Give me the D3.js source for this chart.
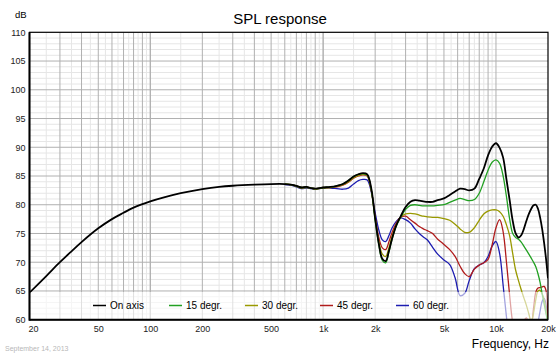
<!DOCTYPE html>
<html><head><meta charset="utf-8">
<script src="https://cdn.jsdelivr.net/npm/d3@7"></script>
<style>body{margin:0;background:#fff}svg{display:block;font-family:"Liberation Sans",Arial,sans-serif}</style>
</head><body><svg id="c" width="560" height="356"></svg>
<script>
const freqLow = [20,25,30,35,40,50,60,70,80,100,120,150,200,250,300,400,500];
const onAxisLow = [64.7,67.6,70.0,71.9,73.5,75.9,77.5,78.6,79.5,80.6,81.3,82.0,82.7,83.1,83.3,83.5,83.6];
const freqHigh = [600,650,700,750,800,850,900,950,1000,1100,1200,1300,1400,1500,1600,1700,1800,1900,2000,2100,2200,2300,2400,2500,2650,2800,3000,3200,3400,3600,3800,4000,4300,4600,5000,5400,5800,6200,6600,7000,7500,8000,8500,9000,9500,10000,10500,11000,11500,12000,12500,13000,13500,14000,14500,15000,15500,16000,16500,17000,17500,18000,18500,19000,19500,20000];
const onAxisHigh = [83.6,83.5,83.3,83.0,83.1,82.9,82.8,82.9,83.0,83.1,83.3,83.6,84.2,84.9,85.3,85.5,85.3,82.8,77.6,73.2,70.6,70.2,71.9,74.0,76.4,77.9,79.6,80.5,80.8,80.7,80.6,80.5,80.5,80.8,81.1,81.7,82.3,82.8,82.7,82.5,82.8,84.5,86.3,88.6,90.1,90.7,89.9,88.2,84.4,80.8,77.2,75.0,74.3,74.7,75.8,77.2,78.4,79.3,79.9,80.0,79.3,77.8,75.8,73.3,70.5,67.2];
const deg15 = [83.6,83.5,83.3,83.0,83.1,82.9,82.8,82.9,83.0,83.1,83.3,83.6,84.2,84.9,85.3,85.4,85.2,82.6,77.3,73.0,70.3,69.9,71.7,73.9,76.3,77.7,79.2,79.9,80.0,79.9,79.8,79.8,79.8,79.9,80.0,80.4,80.8,81.1,80.9,80.7,80.9,82.0,84.0,86.0,87.4,87.8,87.2,85.0,81.4,77.5,75.0,74.3,74.0,73.5,72.8,72.1,71.4,70.7,70.0,69.2,68.0,66.5,64.5,62.7,61.0,59.3];
const deg30 = [83.6,83.5,83.2,82.9,83.0,82.9,82.7,82.8,82.9,83.0,83.2,83.5,84.0,84.7,85.1,85.3,85.1,82.5,77.6,73.6,71.4,71.0,72.5,74.4,76.5,77.8,78.4,78.5,78.4,78.2,78.0,77.9,77.8,77.8,77.6,77.3,76.6,75.8,75.2,75.2,76.0,77.3,78.4,78.9,79.1,79.1,78.8,78.0,76.5,74.6,71.5,68.6,66.8,65.2,63.8,62.5,61.0,59.6,61.2,63.5,65.0,65.1,64.5,63.5,61.5,59.0];
const deg45 = [83.6,83.5,83.3,83.0,83.1,82.9,82.8,82.9,83.0,83.0,83.1,83.4,83.9,84.6,85.0,85.2,85.0,82.4,77.9,74.3,72.5,72.2,73.5,75.1,76.8,77.8,78.0,77.4,76.8,76.2,75.8,75.5,75.0,74.0,73.1,72.2,71.0,69.3,68.0,67.5,68.8,69.5,69.9,70.5,73.0,76.0,77.4,75.3,70.0,64.2,59.5,57.5,57.0,58.0,59.8,60.3,59.5,59.5,62.0,64.8,65.5,65.6,65.7,65.8,65.0,59.0];
const deg60 = [83.5,83.4,83.1,82.8,82.9,82.8,82.7,82.8,82.9,82.9,82.8,82.7,82.9,83.6,84.2,84.4,84.3,82.2,78.6,75.6,73.9,73.6,74.6,75.9,77.1,77.7,77.4,76.8,75.8,75.0,74.4,73.9,72.6,71.4,70.4,69.6,67.3,64.2,64.6,66.8,68.9,69.5,69.9,71.0,72.8,73.6,71.5,66.0,60.5,56.0,54.0,54.0,54.0,54.0,54.0,55.0,55.0,55.0,56.0,57.5,59.5,61.5,63.2,63.7,62.5,58.0];
const seriesNames = ["On axis","15 degr.","30 degr.","45 degr.","60 degr."];
const seriesColors = ["#000000","#22a022","#999900","#b01c1c","#1c1cb0"];
const xTickValues = [20,50,100,200,500,1000,2000,5000,10000,20000];
const xTickLabels = ["20","50","100","200","500","1k","2k","5k","10k","20k"];
const yTickValues = [60,65,70,75,80,85,90,95,100,105,110];

const svg = d3.select("#c");
const L = 29.5, R = 548, T = 32.3, B = 319.7;
const x = d3.scaleLog().domain([20,20000]).range([L,R]);
const y = d3.scaleLinear().domain([60,110]).range([B,T]);

svg.append("defs").append("clipPath").attr("id","clip")
  .append("rect").attr("x",L).attr("y",T).attr("width",R-L).attr("height",B-T);

const g = svg.append("g");
const minorX = [], majorX = [];
for (const d of [10,100,1000]) {
  for (let k = 1; k <= 10; k++) {
    const v = k*d; if (v > 20 && v < 20000) majorX.push(v);
    const m = (k+0.5)*d; if (k < 10 && m > 20 && m < 20000) minorX.push(m);
  }
}
const minorY = d3.range(61,110).filter(v => v % 5 !== 0);
const majorY = d3.range(65,110,5);
g.selectAll(".mnx").data(minorX).join("line").attr("x1",d=>x(d)).attr("x2",d=>x(d)).attr("y1",T).attr("y2",B).attr("stroke","#e6e6e6").attr("stroke-width",1);
g.selectAll(".mny").data(minorY).join("line").attr("y1",d=>y(d)).attr("y2",d=>y(d)).attr("x1",L).attr("x2",R).attr("stroke","#e6e6e6").attr("stroke-width",1);
g.selectAll(".mjx").data(majorX).join("line").attr("x1",d=>x(d)).attr("x2",d=>x(d)).attr("y1",T).attr("y2",B).attr("stroke","#b0b0b0").attr("stroke-width",1);
g.selectAll(".mjy").data(majorY).join("line").attr("y1",d=>y(d)).attr("y2",d=>y(d)).attr("x1",L).attr("x2",R).attr("stroke","#b0b0b0").attr("stroke-width",1);

const line = d3.line().x(d=>x(d[0])).y(d=>y(d[1])).curve(d3.curveCatmullRom.alpha(0.5));
const onAxis = freqLow.map((f,i)=>[f,onAxisLow[i]]).concat(freqHigh.map((f,i)=>[f,onAxisHigh[i]]));
const series = [onAxis, freqHigh.map((f,i)=>[f,deg15[i]]), freqHigh.map((f,i)=>[f,deg30[i]]), freqHigh.map((f,i)=>[f,deg45[i]]), freqHigh.map((f,i)=>[f,deg60[i]])];
const cg = svg.append("g").attr("clip-path","url(#clip)");
for (let i = series.length-1; i >= 0; i--) {
  cg.append("path").attr("d",line(series[i])).attr("fill","none").attr("stroke",seriesColors[i]).attr("stroke-width", i===0?1.8:1.3).attr("stroke-linejoin","round");
}

const lg = svg.append("g");
lg.append("rect").attr("x",L+1).attr("y",292).attr("width",R-L-2).attr("height",B-292).attr("fill","#fff").attr("opacity",0.6);
const legX = [93,169,245,320,396];
seriesNames.forEach((n,i)=>{
  lg.append("line").attr("x1",legX[i]).attr("x2",legX[i]+13).attr("y1",305.5).attr("y2",305.5).attr("stroke",seriesColors[i]).attr("stroke-width",1.5);
  lg.append("text").attr("x",legX[i]+17).attr("y",309).attr("font-size",10).attr("fill","#000").text(n);
});

svg.append("rect").attr("x",L).attr("y",T).attr("width",R-L).attr("height",B-T).attr("fill","none").attr("stroke","#000").attr("stroke-width",1.2);
svg.append("line").attr("x1",L).attr("x2",L).attr("y1",T).attr("y2",B+1).attr("stroke","#000").attr("stroke-width",2);
svg.append("line").attr("x1",L).attr("x2",R).attr("y1",B).attr("y2",B).attr("stroke","#000").attr("stroke-width",2);

const yAxis = d3.axisLeft(y).tickValues(yTickValues).tickSize(0).tickPadding(4);
const ya = svg.append("g").attr("transform",`translate(${L},0)`).call(yAxis);
ya.select(".domain").remove();
ya.selectAll("text").attr("font-size",9).attr("font-family","Liberation Sans, Arial, sans-serif").attr("fill","#222");
const xAxis = d3.axisBottom(x).tickValues(xTickValues).tickFormat((d,i)=>xTickLabels[i]).tickSize(0).tickPadding(6);
const xa = svg.append("g").attr("transform",`translate(0,${B})`).call(xAxis);
xa.select(".domain").remove();
xa.selectAll("text").attr("font-size",9).attr("font-family","Liberation Sans, Arial, sans-serif").attr("fill","#222");
xa.selectAll("text").filter((d,i)=>i===0).attr("text-anchor","start").attr("dx",-1.5);

svg.append("text").attr("x",280).attr("y",24).attr("text-anchor","middle").attr("font-size",15).text("SPL response");
svg.append("text").attr("x",15).attr("y",18).attr("font-size",9.5).text("dB");
svg.append("text").attr("x",549).attr("y",348).attr("text-anchor","end").attr("font-size",12).text("Frequency, Hz");
svg.append("text").attr("x",5).attr("y",351).attr("font-size",7).attr("fill","#b8b8b8").text("September 14, 2013");
</script></body></html>
